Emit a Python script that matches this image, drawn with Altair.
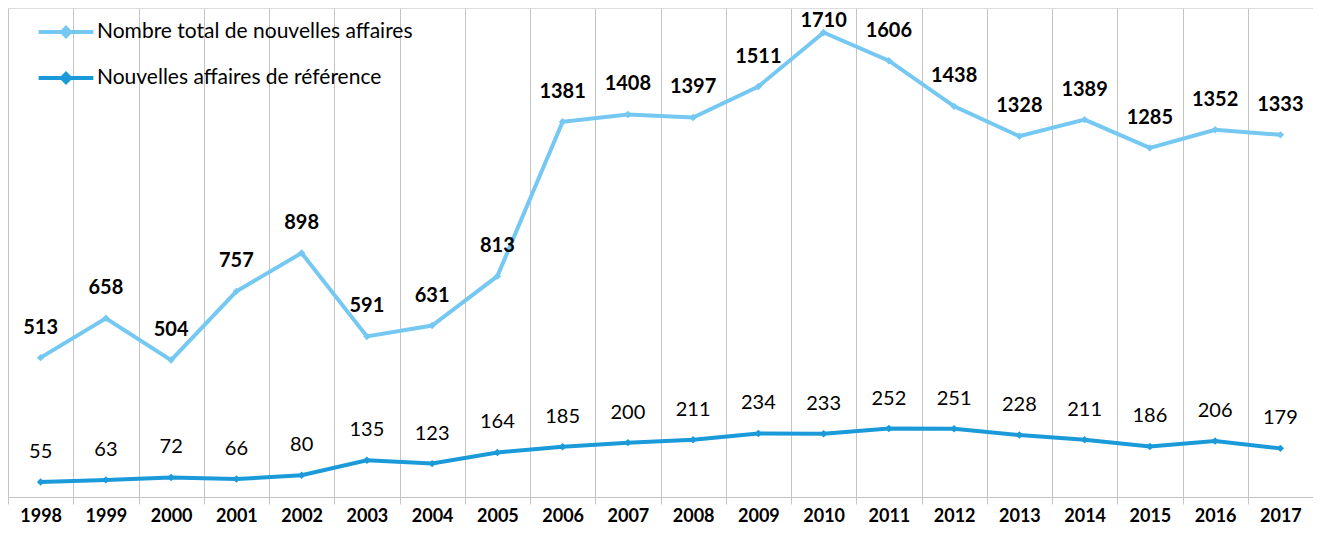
import altair as alt
import pandas as pd

years = [str(y) for y in range(1998, 2018)]
total = [513, 658, 504, 757, 898, 591, 631, 813, 1381, 1408, 1397, 1511, 1710, 1606, 1438, 1328, 1389, 1285, 1352, 1333]
reference = [55, 63, 72, 66, 80, 135, 123, 164, 185, 200, 211, 234, 233, 252, 251, 228, 211, 186, 206, 179]

s_total = "Nombre total de nouvelles affaires"
s_ref = "Nouvelles affaires de référence"

df = pd.DataFrame(
    [{"year": y, "value": v, "series": s_total} for y, v in zip(years, total)]
    + [{"year": y, "value": v, "series": s_ref} for y, v in zip(years, reference)]
)

FONT = "Lato"
color_scale = alt.Scale(domain=[s_total, s_ref], range=["#74C8F2", "#1B9AD9"])

x_enc = alt.X(
    "year:O",
    title=None,
    sort=years,
    scale=alt.Scale(paddingInner=0, paddingOuter=0),
    axis=alt.Axis(
        labelAngle=0,
        tickBand="extent",
        grid=True,
        gridColor="#C4C4C4",
        gridWidth=1,
        ticks=True,
        tickSize=7,
        tickColor="#C4C4C4",
        domainColor="#C4C4C4",
        labelFont=FONT,
        labelFontSize=18,
        labelFontWeight="bold",
        labelColor="#000000",
        labelPadding=3,
    ),
)
y_enc = alt.Y("value:Q", scale=alt.Scale(domain=[0, 1800], nice=False), axis=None)

base = alt.Chart(df).encode(x=x_enc, y=y_enc)

lines = base.mark_line(strokeWidth=4).encode(
    color=alt.Color(
        "series:N",
        scale=color_scale,
        sort=[s_total, s_ref],
        legend=alt.Legend(
            title=None,
            orient="none",
            legendX=42,
            legendY=8,
            padding=0,
            symbolType="M-2,0L2,0M0,-0.3L0.3,0L0,0.3L-0.3,0Z",
            symbolSize=750,
            symbolStrokeWidth=4,
            labelFont=FONT,
            labelFontSize=21,
            labelColor="#000000",
            labelOffset=15,
            labelLimit=600,
            rowPadding=17,
        ),
    )
)

points = base.mark_point(shape="diamond", filled=True, size=55, opacity=1).encode(
    color=alt.Color("series:N", scale=color_scale, legend=None)
)

labels_total = base.transform_filter(
    (alt.datum.series == s_total) & (alt.datum.value <= 1700)
).mark_text(
    font=FONT, fontSize=20, fontWeight="bold", color="#000000", dy=-30, baseline="middle"
).encode(text="value:Q")

labels_top = base.transform_filter(
    (alt.datum.series == s_total) & (alt.datum.value > 1700)
).mark_text(
    font=FONT, fontSize=20, fontWeight="bold", color="#000000", dy=-11, baseline="middle"
).encode(text="value:Q")

labels_ref = base.transform_filter(alt.datum.series == s_ref).mark_text(
    font=FONT, fontSize=20, color="#000000", dy=-30, baseline="middle"
).encode(text="value:Q")

chart = (
    alt.layer(lines, points, labels_total, labels_top, labels_ref)
    .properties(
        width=1305,
        height=489,
        padding={"left": 0, "top": 0, "right": 0, "bottom": 28},
        autosize=alt.AutoSizeParams(type="none"),
    )
    .configure_view(stroke=None)
    .configure(background="white")
)

chart.save("out.html", embed_options={"renderer": "svg", "actions": False})
